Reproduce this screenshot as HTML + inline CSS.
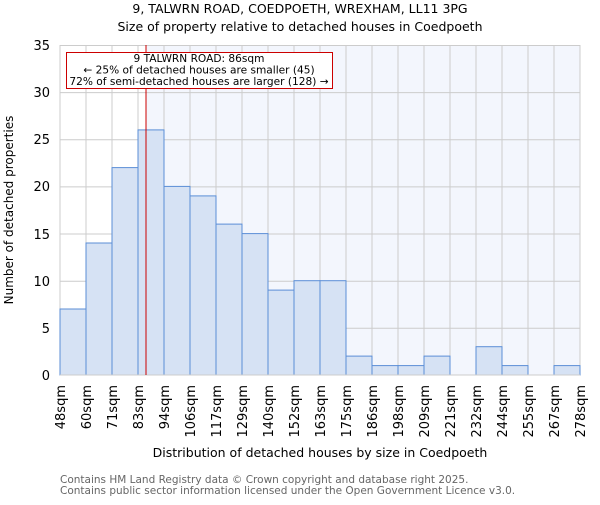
<!DOCTYPE html><html><head><style>body{margin:0;background:#fff}svg{font-family:"DejaVu Sans","Liberation Sans",sans-serif}</style></head><body>
<svg width="600" height="500" xmlns="http://www.w3.org/2000/svg">
<text x="300" y="13" text-anchor="middle" font-size="12.5">9, TALWRN ROAD, COEDPOETH, WREXHAM, LL11 3PG</text>
<text x="300" y="31" text-anchor="middle" font-size="12.5">Size of property relative to detached houses in Coedpoeth</text>
<rect x="146" y="45" width="434" height="330" fill="#f3f6fd"/>
<g stroke="#cccccc" stroke-width="1">
<line x1="60" x2="580" y1="45.5" y2="45.5"/><line x1="60" x2="580" y1="92.6" y2="92.6"/><line x1="60" x2="580" y1="139.8" y2="139.8"/><line x1="60" x2="580" y1="186.9" y2="186.9"/><line x1="60" x2="580" y1="234" y2="234"/><line x1="60" x2="580" y1="281.2" y2="281.2"/><line x1="60" x2="580" y1="328.3" y2="328.3"/>
<line x1="86" x2="86" y1="45" y2="375"/><line x1="112" x2="112" y1="45" y2="375"/><line x1="138" x2="138" y1="45" y2="375"/><line x1="164" x2="164" y1="45" y2="375"/><line x1="190" x2="190" y1="45" y2="375"/><line x1="216" x2="216" y1="45" y2="375"/><line x1="242" x2="242" y1="45" y2="375"/><line x1="268" x2="268" y1="45" y2="375"/><line x1="294" x2="294" y1="45" y2="375"/><line x1="320" x2="320" y1="45" y2="375"/><line x1="346" x2="346" y1="45" y2="375"/><line x1="372" x2="372" y1="45" y2="375"/><line x1="398" x2="398" y1="45" y2="375"/><line x1="424" x2="424" y1="45" y2="375"/><line x1="450" x2="450" y1="45" y2="375"/><line x1="476" x2="476" y1="45" y2="375"/><line x1="502" x2="502" y1="45" y2="375"/><line x1="528" x2="528" y1="45" y2="375"/><line x1="554" x2="554" y1="45" y2="375"/><line x1="580" x2="580" y1="45" y2="375"/><line x1="60" x2="60" y1="45" y2="375"/>
</g>
<g fill="#d6e2f4" stroke="#5b8ed6" stroke-width="1">
<rect x="60" y="309" width="26" height="66"/>
<rect x="86" y="243" width="26" height="132"/>
<rect x="112" y="167.6" width="26" height="207.4"/>
<rect x="138" y="129.9" width="26" height="245.1"/>
<rect x="164" y="186.4" width="26" height="188.6"/>
<rect x="190" y="195.9" width="26" height="179.1"/>
<rect x="216" y="224.1" width="26" height="150.9"/>
<rect x="242" y="233.6" width="26" height="141.4"/>
<rect x="268" y="290.1" width="26" height="84.9"/>
<rect x="294" y="280.7" width="26" height="94.3"/>
<rect x="320" y="280.7" width="26" height="94.3"/>
<rect x="346" y="356.1" width="26" height="18.9"/>
<rect x="372" y="365.6" width="26" height="9.4"/>
<rect x="398" y="365.6" width="26" height="9.4"/>
<rect x="424" y="356.1" width="26" height="18.9"/>
<rect x="476" y="346.7" width="26" height="28.3"/>
<rect x="502" y="365.6" width="26" height="9.4"/>
<rect x="554" y="365.6" width="26" height="9.4"/>
</g>
<line x1="60" x2="580" y1="375" y2="375" stroke="#cccccc"/>
<line x1="146" x2="146" y1="45" y2="375" stroke="#cc0000" stroke-width="1"/>
<rect x="66.5" y="52.5" width="266" height="36" fill="#fff" stroke="#cc0000"/>
<g font-size="10.6" text-anchor="middle"><text x="199" y="62">9 TALWRN ROAD: 86sqm</text><text x="199" y="73.5">← 25% of detached houses are smaller (45)</text><text x="199" y="85">72% of semi-detached houses are larger (128) →</text></g>
<g font-size="13" text-anchor="end"><text x="50" y="50">35</text><text x="50" y="97">30</text><text x="50" y="144">25</text><text x="50" y="191">20</text><text x="50" y="239">15</text><text x="50" y="286">10</text><text x="50" y="333">5</text><text x="50" y="380">0</text></g>
<text transform="translate(13,210) rotate(-90)" text-anchor="middle" font-size="12">Number of detached properties</text>
<g font-size="13" text-anchor="end">
<text transform="translate(65,385) rotate(-90)">48sqm</text><text transform="translate(91,385) rotate(-90)">60sqm</text><text transform="translate(117,385) rotate(-90)">71sqm</text><text transform="translate(143,385) rotate(-90)">83sqm</text><text transform="translate(169,385) rotate(-90)">94sqm</text><text transform="translate(195,385) rotate(-90)">106sqm</text><text transform="translate(221,385) rotate(-90)">117sqm</text><text transform="translate(247,385) rotate(-90)">129sqm</text><text transform="translate(273,385) rotate(-90)">140sqm</text><text transform="translate(299,385) rotate(-90)">152sqm</text><text transform="translate(325,385) rotate(-90)">163sqm</text><text transform="translate(351,385) rotate(-90)">175sqm</text><text transform="translate(377,385) rotate(-90)">186sqm</text><text transform="translate(403,385) rotate(-90)">198sqm</text><text transform="translate(429,385) rotate(-90)">209sqm</text><text transform="translate(455,385) rotate(-90)">221sqm</text><text transform="translate(481,385) rotate(-90)">232sqm</text><text transform="translate(507,385) rotate(-90)">244sqm</text><text transform="translate(533,385) rotate(-90)">255sqm</text><text transform="translate(559,385) rotate(-90)">267sqm</text><text transform="translate(585,385) rotate(-90)">278sqm</text>
</g>
<text x="320" y="457" text-anchor="middle" font-size="12.5">Distribution of detached houses by size in Coedpoeth</text>
<g font-size="10.5" fill="#666"><text x="60" y="483">Contains HM Land Registry data © Crown copyright and database right 2025.</text><text x="60" y="494">Contains public sector information licensed under the Open Government Licence v3.0.</text></g>
</svg></body></html>
